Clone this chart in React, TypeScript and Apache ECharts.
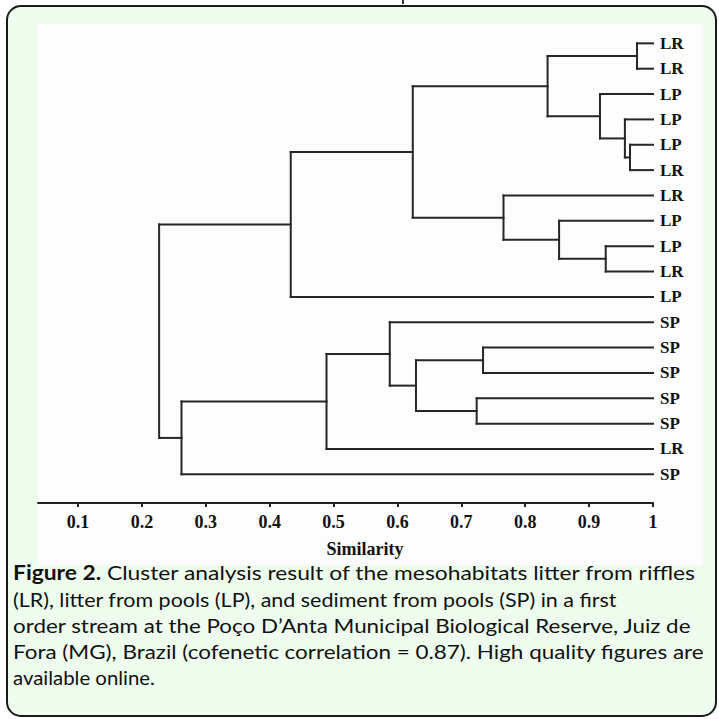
import React, { useEffect, useRef } from 'react';
import * as echarts from 'echarts';

// ---- data ----
const leafLabels = ['LR', 'LR', 'LP', 'LP', 'LP', 'LR', 'LR', 'LP', 'LP', 'LR', 'LP', 'SP', 'SP', 'SP', 'SP', 'SP', 'LR', 'SP'];
// agglomeration steps: node ids 0..17 are leaves, new nodes get ids 18, 19, ...
const mergeA = [0, 4, 3, 2, 18, 8, 7, 6, 22, 26, 12, 14, 28, 11, 31, 32, 27];
const mergeB = [1, 5, 19, 20, 21, 9, 23, 24, 25, 10, 13, 15, 29, 30, 16, 17, 33];
const mergeSimilarity = [0.975, 0.964, 0.956, 0.917, 0.835, 0.926, 0.853, 0.766, 0.624, 0.433, 0.734, 0.724, 0.629, 0.588, 0.489, 0.262, 0.227];
const xTickValues = [0.1, 0.2, 0.3, 0.4, 0.5, 0.6, 0.7, 0.8, 0.9, 1];
const xTickLabels = ['0.1', '0.2', '0.3', '0.4', '0.5', '0.6', '0.7', '0.8', '0.9', '1'];
const xAxisTitle = 'Similarity';
const captionBold = 'Figure 2.';
const captionLines = [
  ' Cluster analysis result of the mesohabitats litter from riffles',
  '(LR), litter from pools (LP), and sediment from pools (SP) in a first',
  'order stream at the Poço D\u2019Anta Municipal Biological Reserve, Juiz de',
  'Fora (MG), Brazil (cofenetic correlation = 0.87). High quality figures are',
  'available online.',
];

// ---- build dendrogram segments from the merges ----
function buildSegments() {
  const nodeX: number[] = leafLabels.map(() => 1);
  const nodeY: number[] = leafLabels.map((_, i) => i);
  const segs: number[][] = [];
  mergeSimilarity.forEach((s, k) => {
    const a = mergeA[k];
    const b = mergeB[k];
    segs.push([nodeX[a], nodeY[a], s, nodeY[a]]);
    segs.push([nodeX[b], nodeY[b], s, nodeY[b]]);
    segs.push([s, nodeY[a], s, nodeY[b]]);
    nodeX.push(s);
    nodeY.push((nodeY[a] + nodeY[b]) / 2);
  });
  return segs;
}

const CAPTION_FONT = 'Lato';
const SERIF = '"Liberation Serif", "Times New Roman", serif';

function measure(text: string, font: string) {
  const c = document.createElement('canvas').getContext('2d')!;
  c.font = font;
  return c.measureText(text).width;
}

export default function App() {
  const ref = useRef<HTMLDivElement>(null);
  useEffect(() => {
    if (!ref.current) return;
    const chart = echarts.init(ref.current, undefined, { renderer: 'svg' });
    const segs = buildSegments();

    const capLeft = 13;
    const capRight = [697, 617, 692, 705, 155];
    const capY = [573, 599, 625, 651, 677];
    const capSize = 20;
    const captionEls: any[] = captionLines.map((line, i) => {
      let natural = measure(line, `${capSize}px ${CAPTION_FONT}`);
      if (i === 0) natural += measure(captionBold, `bold ${capSize}px ${CAPTION_FONT}`);
      const sx = natural > 0 ? (capRight[i] - capLeft) / natural : 1;
      return {
        type: 'text',
        x: capLeft,
        y: capY[i],
        scaleX: sx,
        z: 10,
        style: {
          text: i === 0 ? `{b|${captionBold}}{n|${line}}` : line,
          fontFamily: CAPTION_FONT,
          fontSize: capSize,
          fill: '#111111',
          textVerticalAlign: 'middle',
          textAlign: 'left',
          rich:
            i === 0
              ? {
                  b: { fontWeight: 'bold', fontFamily: CAPTION_FONT, fontSize: capSize, fill: '#111111' },
                  n: { fontFamily: CAPTION_FONT, fontSize: capSize, fill: '#111111' },
                }
              : undefined,
        },
      };
    });

    chart.setOption({
      animation: false,
      graphic: [
        {
          type: 'rect', z: -10, silent: true,
          shape: { x: 7, y: 6, width: 709, height: 710, r: 14 },
          style: { fill: '#eefdee', stroke: '#1a1a1a', lineWidth: 2 },
        },
        {
          type: 'rect', z: -9, silent: true,
          shape: { x: 38, y: 24, width: 665, height: 541 },
          style: { fill: '#fdfdfd' },
        },
        {
          type: 'rect', z: -9, silent: true,
          shape: { x: 402, y: 0, width: 2, height: 4 },
          style: { fill: '#333' },
        },
        ...captionEls,
      ],
      grid: { left: 38, width: 615, top: 18, height: 485, containLabel: false },
      xAxis: {
        type: 'value',
        min: 0.0374,
        max: 1,
        name: xAxisTitle,
        nameLocation: 'middle',
        nameGap: 37,
        nameTextStyle: {
          fontFamily: SERIF, fontWeight: 'bold', fontSize: 18, color: '#111',
          padding: [0, 0, 0, 39],
        },
        axisLine: { show: true, onZero: false, lineStyle: { color: '#222', width: 2 } },
        axisTick: { show: true, length: 4, customValues: xTickValues, lineStyle: { color: '#222', width: 2 } },
        axisLabel: {
          customValues: xTickValues,
          margin: 10,
          fontFamily: SERIF, fontWeight: 'bold', fontSize: 18, color: '#111',
          formatter: (v: number) => {
            const i = xTickValues.findIndex((t) => Math.abs(t - v) < 1e-6);
            return i >= 0 ? xTickLabels[i] : '';
          },
        },
        splitLine: { show: false },
      },
      yAxis: {
        type: 'value',
        inverse: true,
        min: -1,
        max: 18.13,
        interval: 1,
        position: 'right',
        axisLine: { show: false },
        axisTick: { show: false },
        splitLine: { show: false },
        axisLabel: {
          margin: 7,
          fontFamily: SERIF, fontWeight: 'bold', fontSize: 17, color: '#111',
          formatter: (v: number) => (Number.isInteger(v) && leafLabels[v] ? leafLabels[v] : ''),
        },
      },
      series: [
        {
          type: 'custom',
          coordinateSystem: 'cartesian2d',
          dimensions: ['x1', 'y1', 'x2', 'y2'],
          encode: { x: [0, 2], y: [1, 3] },
          data: segs,
          silent: true,
          renderItem: (params: any, api: any) => {
            const p1 = api.coord([api.value(0), api.value(1)]);
            const p2 = api.coord([api.value(2), api.value(3)]);
            return {
              type: 'line',
              shape: { x1: p1[0], y1: p1[1], x2: p2[0], y2: p2[1] },
              style: { stroke: '#262626', lineWidth: 2, lineCap: 'square' },
            };
          },
        },
      ],
    });
    return () => chart.dispose();
  }, []);
  return (
    <div
      ref={ref}
      style={{ position: 'fixed', left: 0, top: 0, width: 719, height: 719, background: '#ffffff' }}
    />
  );
}
